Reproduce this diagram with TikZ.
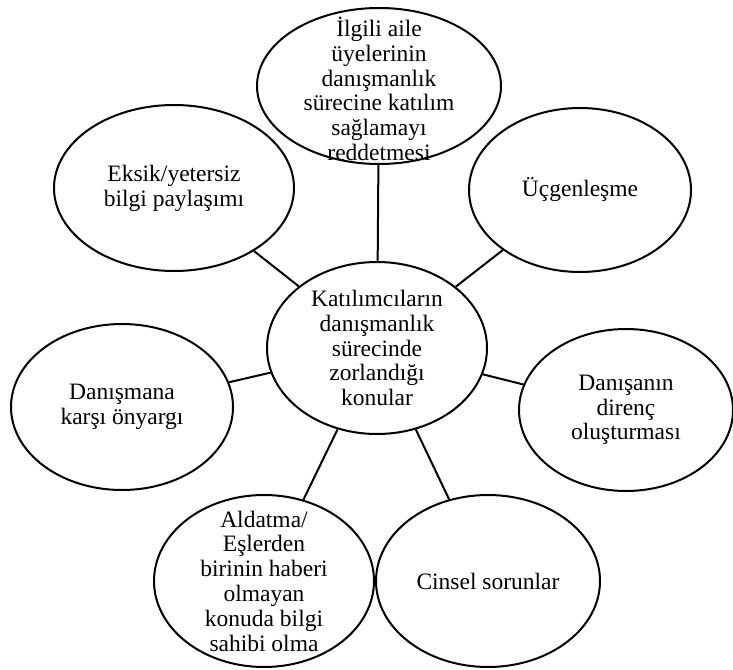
\documentclass[tikz,border=0pt]{standalone}
\usepackage{fontspec}
\setmainfont{Liberation Serif}
\usetikzlibrary{shapes.geometric}
\begin{document}
\begin{tikzpicture}[x=1pt, y=-1pt,
		bubble/.style={draw, ellipse, line width=2pt, inner sep=0pt},
		txt/.style={align=center, inner sep=0pt, font=\fontsize{23.5}{24.8}\selectfont}]
	\useasboundingbox (0,0) rectangle (733,669);
	% bubbles
	\node[bubble, minimum width=244pt, minimum height=156pt] (aile) at (379,86) {};
	\node[bubble, minimum width=240pt, minimum height=166pt] (eksik) at (174,188) {};
	\node[bubble, minimum width=222pt, minimum height=164pt] (ucgen) at (580,190) {};
	\node[bubble, minimum width=220pt, minimum height=172pt] (merkez) at (377,348) {};
	\node[bubble, minimum width=222pt, minimum height=166pt] (onyargi) at (122,407) {};
	\node[bubble, minimum width=214pt, minimum height=162pt] (direnc) at (626,410) {};
	\node[bubble, minimum width=220pt, minimum height=172pt] (aldatma) at (264,581) {};
	\node[bubble, minimum width=224pt, minimum height=172pt] (cinsel) at (488,581) {};
	% texts
	\node[txt] (aile-t) at (379,89) {İlgili aile\\üyelerinin\\danışmanlık\\sürecine katılım\\sağlamayı\\reddetmesi};
	\node[txt] (eksik-t) at (eksik) {Eksik/yetersiz\\bilgi paylaşımı};
	\node[txt] (ucgen-t) at (ucgen) {Üçgenleşme};
	\node[txt] (merkez-t) at (merkez) {Katılımcıların\\danışmanlık\\sürecinde\\zorlandığı\\konular};
	\node[txt] (onyargi-t) at (onyargi) {Danışmana\\karşı önyargı};
	\node[txt] (direnc-t) at (direnc) {Danışanın\\direnç\\oluşturması};
	\node[txt] (aldatma-t) at (aldatma) {Aldatma/\\Eşlerden\\birinin haberi\\olmayan\\konuda bilgi\\sahibi olma};
	\node[txt] (cinsel-t) at (cinsel) {Cinsel sorunlar};
	% spokes
	\draw[line width=2pt] (merkez) -- (aile);
	\draw[line width=2pt] (merkez) -- (eksik);
	\draw[line width=2pt] (merkez) -- (ucgen);
	\draw[line width=2pt] (merkez) -- (onyargi);
	\draw[line width=2pt] (merkez) -- (direnc);
	\draw[line width=2pt] (merkez) -- (aldatma);
	\draw[line width=2pt] (merkez) -- (cinsel);
\end{tikzpicture}
\end{document}
